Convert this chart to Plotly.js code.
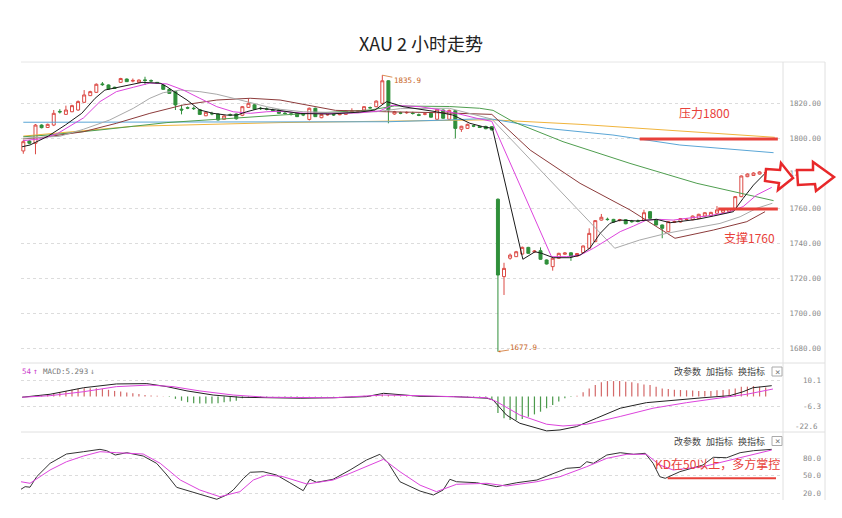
<!DOCTYPE html>
<html><head><meta charset="utf-8">
<script src="https://cdn.plot.ly/plotly-3.0.1.min.js"></script>
<style>html,body{margin:0;padding:0;background:#fff;}#chart{width:842px;height:518px;}</style>
</head><body><div id="chart"></div>
<script>
// ---------- DATA ----------
const opens = [1792.6,1798.3,1797,1807.4,1806,1807.4,1815.2,1813.5,1815,1816,1820.4,1824.2,1826.1,1830.9,1830.3,1829,1831.8,1833.7,1832.5,1831.8,1833.2,1832.8,1831.8,1830.3,1827.8,1826.5,1816.5,1817.3,1817,1816.2,1812.7,1814,1813.7,1810.7,1813.3,1813.7,1813,1817.5,1819,1817,1816.6,1815.9,1816,1814.2,1813.8,1814.1,1813.4,1810.6,1817,1811.6,1813.2,1813.4,1813.3,1813.5,1815,1815.3,1816,1817.4,1817.9,1819.8,1832.7,1813.7,1814.4,1814.4,1814.2,1813.3,1813.6,1814.1,1810.7,1816,1810.7,1815.6,1805,1805.5,1807,1806.6,1806.6,1806.5,1765,1720.8,1731.3,1732.2,1733.7,1737.5,1734.8,1735.6,1730.3,1726.5,1731.3,1733.6,1734.4,1732.5,1734.5,1737,1740.8,1753.1,1753.6,1753.5,1752.8,1753.3,1752.4,1752.6,1753.1,1757.9,1753.5,1750.3,1746.5,1751.8,1752,1753.4,1753.3,1754,1755.4,1755.6,1757,1757.5,1757.9,1759.8,1766.5,1777.9,1778.6,1779.4,1780];
const highs = [1799,1798.8,1808,1807.8,1808.2,1816,1816.5,1818.5,1819,1821.5,1827.4,1827,1831.2,1832,1830.6,1829.3,1834.4,1834,1834,1833.5,1835,1833.5,1832,1830.8,1828,1826.8,1819,1818,1818,1816.6,1815,1815,1814,1813,1814,1814,1818.3,1822.5,1819.4,1817.8,1817.5,1816.8,1816.4,1815,1814.6,1814.4,1814,1817.4,1817.3,1813.8,1813.8,1813.8,1814.2,1815.8,1817,1816,1818.2,1818,1821.5,1835.9,1833,1815.5,1815,1815.2,1815,1814,1814.4,1814.4,1816.8,1816.3,1816.2,1816,1807,1808.2,1807.6,1807,1807,1806.8,1765.5,1728.7,1734,1735.5,1738,1737.8,1736,1737.5,1730.6,1731.6,1734.4,1734.8,1734.7,1734.3,1738.6,1748.4,1753.1,1756.6,1754.5,1753.8,1753.8,1753.6,1753.2,1753.4,1759,1758.2,1753.8,1750.6,1752.5,1752.8,1754.3,1754.2,1755.7,1756.7,1757.6,1757.8,1761.1,1759.3,1760,1766.8,1778.6,1779.8,1780.4,1781,1780.8];
const lows = [1791,1796.5,1790.7,1805.5,1805.7,1806.8,1814,1813.2,1814.8,1815.5,1820,1824,1825.8,1829.8,1827.8,1828,1831.5,1832,1831.8,1831.5,1830.3,1832,1831,1827.5,1825.2,1816,1813.5,1816.5,1816,1813.2,1812.5,1813,1810,1810.4,1812.5,1810.5,1812.5,1817.2,1816.2,1816,1815.8,1815,1813.8,1813.4,1812.8,1812,1812.5,1810,1812,1811.3,1812.8,1812.6,1813,1813.2,1814.2,1815,1815.8,1816.8,1817.6,1819.5,1808.4,1813.3,1813.6,1813.8,1813.4,1812.5,1813,1811.6,1810.4,1811,1810.4,1799.8,1803.5,1805.2,1806.2,1805.7,1805,1804.3,1677.9,1710.3,1730.5,1732,1733.4,1733.8,1734.5,1730.4,1727.7,1724.2,1731,1733.3,1729.8,1732.2,1734.2,1736.7,1740.5,1752.8,1752.8,1751.7,1752.4,1750.7,1751.6,1751.8,1752.8,1753.8,1750,1742.7,1746.2,1751.4,1751.7,1752.9,1753,1753.7,1755.1,1755.3,1756.7,1757.2,1757.6,1759.5,1766.2,1777.6,1778.3,1779.1,1779.6];
const closes = [1797.9,1797,1807.4,1805.9,1807.8,1814.1,1814.9,1816,1818.5,1820.8,1824.6,1826.5,1830.7,1830.5,1828,1828.3,1834,1832.2,1832.9,1833.1,1832.9,1832.6,1831.4,1827.8,1825.5,1818.9,1816,1817.1,1816.8,1813.5,1814.7,1813.8,1810.3,1812.6,1813.1,1811,1817.9,1819.8,1816.5,1816.8,1816.4,1815.6,1814.1,1814,1813.5,1812.2,1813.2,1817,1812.2,1813.5,1813.4,1813.2,1813.7,1815.4,1815.3,1815.5,1817.9,1817.2,1821.1,1832.7,1816,1815,1814.2,1814.6,1814,1813,1813.8,1811.9,1816.4,1811.3,1815.8,1805.5,1806.7,1807.8,1806.8,1806,1805.3,1804.6,1721.7,1725.5,1733.1,1735,1737.5,1734.1,1735.4,1730.7,1728,1731.3,1734.1,1734.3,1732,1734,1738.3,1745.5,1752.8,1754.7,1753.4,1752,1753.3,1751,1752.2,1752.4,1757.3,1754.1,1750.3,1748.4,1752.2,1752.2,1754,1753.6,1755.4,1756.4,1757.3,1757.5,1758.9,1759,1759.6,1766.5,1778.3,1779.4,1780,1780.6,1780.2];

// moving averages (bar index, price)
const ma5X = [-0.2,1.1,4.1,6.9,9.6,11.8,13.4,15.1,17.2,19.5,22.5,23.6,25.2,26.9,29.0,31.2,33.4,35.1,36.7,38.9,41.6,45.5,50.4,55.3,57.8,59.7,62.4,65.2,67.9,70.6,73.4,75.5,77.1,82.1,84.1,85.2,87.1,89.8,91.5,93.1,94.8,96.4,98.1,100.8,102.4,104.1,106.3,107.9,110.7,113.4,116.7,118.3,120.0,121.9];
const ma5Y = [1795,1796,1801.1,1807.4,1814.1,1822.7,1827.4,1828.7,1830.3,1831.8,1831.3,1829.3,1825.5,1821.7,1816,1814.1,1813.1,1813.1,1815,1817,1816,1814,1813.7,1814.8,1816,1820.8,1817.9,1816.4,1815,1813.1,1808.4,1806.5,1805.5,1730.7,1735,1734.1,1731.6,1731.6,1733.1,1737,1745.5,1751.2,1753.1,1752.6,1753.1,1753.5,1751.6,1752.2,1753.5,1755.4,1757.9,1765.5,1773.1,1779.8];
const ma10X = [0,3,5.6,7.1,9.9,12.6,15.3,18.1,20.8,23.6,26.3,29.0,31.8,34.5,37.3,40.0,42.2,46,50,55,58.6,60.6,65.2,67.9,71.2,74.5,77.0,86.8,89.3,91.5,93.7,95.9,98.1,100.3,102.4,104.6,106.8,109.0,112.3,115.6,118.3,120.5,123.0];
const ma10Y = [1798.5,1799.6,1802.5,1805.5,1811.5,1820.8,1826.5,1829,1831.4,1830.9,1827.4,1822.7,1817.9,1815,1814.1,1815,1815.3,1814.2,1814,1814.3,1815.5,1818.7,1817.9,1816.4,1814.1,1811.3,1809.5,1732.2,1732.2,1733.1,1737,1741.7,1746.5,1749.7,1753.1,1753.5,1753.1,1754.1,1755.4,1757.3,1760.8,1767.4,1771.8];
const ma20X = [0,6,9.9,14.2,18.1,20.8,23.0,25.8,29.0,31.8,34.5,37.8,40.0,42.2,46,52,58,62,70,77,97.2,101.3,105.7,110.1,114.5,117.8,120.5,123.1];
const ma20Y = [1799.8,1801,1805,1810.3,1817,1822.7,1825.9,1827.4,1826.5,1825,1822.7,1819.8,1817.9,1816.4,1815,1814.5,1815,1816.8,1817,1810.8,1737,1741.7,1745.5,1748.4,1751.2,1755,1759.8,1762.7];
const ma30X = [0,3.3,9.9,15.3,20.8,26.3,31.8,37.3,42.2,51.3,59.7,67.9,77.0,83.3,91.5,99.7,107.1,113.4,118.9,121.9];
const ma30Y = [1799.5,1800.4,1803.6,1808.4,1814.1,1818.9,1821.7,1822.7,1821.7,1815.8,1815,1814.5,1813.5,1793.1,1774.1,1758.9,1742.7,1747.4,1752.2,1757.9];
const ma60X = [0,4.1,12.6,23.6,34.5,42.2,57,61,70,75,77.2,80.5,88.7,99.7,110.7,118.9,123.3];
const ma60Y = [1800.7,1801.7,1804.6,1808.8,1811.3,1813.1,1816,1818.3,1818,1817,1815.8,1809.3,1797.9,1785.5,1774.1,1767.4,1764.2];
const ma120X = [0,40,60,70,75,77.2,86,96.9,101.3,107.9,123.3];
const ma120Y = [1809,1809,1809.3,1810.3,1811,1810.7,1805.5,1801.7,1799.5,1796,1791.6];
const ma250X = [0,10,18.1,42.2,60,77,91.5,107.9,123.5];
const ma250Y = [1801.1,1804,1806.7,1808.8,1809.6,1810.4,1807.8,1804.2,1800.4];

// MACD panel
const macdHist = [0.1,0.2,0.4,0.6,1.5,2.1,2.7,3.5,4.2,4.8,
5.2,5.2,5.2,4.8,4.2,3.5,3.2,2.5,2.1,1.5,
1.0,0.6,0.4,0.2,-0.4,-1.5,-2.7,-3.6,-4.2,-4.4,
-4.4,-4.4,-4.2,-3.6,-3.2,-2.7,-1.1,-0.6,-0.4,-0.3,
-0.3,-0.2,-0.2,-0.3,-0.3,-0.3,-0.2,-0.1,-0.2,-0.2,
-0.1,-0.1,0.1,0.2,0.3,0.3,0.4,0.5,0.6,1.2,
0.9,0.6,0.4,0.3,0.2,0.1,0.1,-0.1,0.1,-0.1,
0.1,-0.3,-0.3,-0.3,-0.3,-0.3,-0.4,-1.8,-10.5,-13.7,
-14.8,-14.8,-14.2,-12.8,-11.3,-9.6,-7.5,-5.4,-3.2,-1.1,
-0.4,0.5,2.6,5.1,7.2,8.9,9.7,9.7,9.7,9.3,
8.9,8.3,7.6,7.2,6.2,5.1,4.7,4.3,4.1,3.9,
3.7,3.5,3.5,3.5,3.9,4.1,4.5,5.1,6.2,6.2,
6.6,6.2,5.6];
const difX = [-0.2,4.4,9.9,15.3,20.3,23.6,26.9,31.2,35.6,40.0,45.5,51.0,56.4,59.2,61.9,65.2,70.7,76.2,77.2,79.4,81.6,86.0,88.2,90.9,94.2,98.1,102.4,106.3,111.7,116.1,118.3,119.9,123.0];
const difY = [-0.5,1.4,5.5,7.9,8.1,6.2,3.5,0.9,-0.5,-0.8,-1.1,-0.8,-0.1,2.0,1.0,0.1,-0.1,-1.1,-2.2,-11.7,-16.9,-21.7,-21.1,-19.0,-13.7,-7.4,-3.9,-2.8,-0.8,0.5,3.0,5.5,6.8];
const deaX = [-0.2,4.4,9.9,15.3,20.8,24.6,29.0,34.5,40.0,51.0,59.2,65.2,76.2,77.8,81.6,86.0,88.7,92.6,98.1,103.5,109.0,114.5,118.9,123.2];
const deaY = [-0.5,0.5,3.0,6.2,7.2,6.2,3.5,0.9,-0.5,-0.8,0.9,0.5,-0.8,-3.3,-11.7,-17.5,-18.6,-17.5,-12.6,-7.4,-3.9,-1.1,1.4,4.7];

// KD panel
const kX = [-0.4,0.3,1.1,2.2,4.4,7.1,9.9,12.6,13.7,15.1,17.0,19.7,21.9,23.6,25.2,29.0,31.8,33.4,34.5,36.2,37.3,39.4,41.6,43.8,46.0,47.1,48.2,50.9,53.7,56.4,58.6,60.0,61.9,65.2,67.4,69.0,70.1,71.2,74.5,77.8,81.1,84.4,87.7,89.3,91.5,92.6,93.7,95.9,98.1,100.3,102.2,103.5,104.6,105.5,107.9,111.7,113.4,115.6,117.8,120.0,123.0];
const kY = [26.9,31.4,30.5,48.3,71,86.8,90.7,94.7,92.4,85.1,89,83.4,71,51.2,30.3,19,10,17.3,25.8,45.6,55.8,56.8,51.2,38.1,24.6,43.9,38.8,43.9,59.7,76.6,86.3,71,39.8,24,17.3,25.8,43.9,39.8,38.1,31.4,38.1,42.7,56.8,62.5,64.2,73.7,71,85.1,89,86.3,88,71,48.3,45.6,56.8,68.1,81.2,80.5,89,92.4,94.7];
const dX = [-0.4,1.1,4.4,7.1,9.9,12.6,15.3,19.7,22.5,25.8,29.0,32.3,35.6,37.8,40.0,42.7,46.6,50.9,53.7,56.4,59.2,61.9,65.2,67.9,71.2,76.2,79.4,84.4,88.2,92.6,95.9,99.2,102.4,104.6,106.8,111.7,117.2,123.0];
const dY = [39.8,37.1,59.7,73.7,83.4,90.7,89,86.8,71,42.7,25.8,14.4,22.9,42.7,51.2,48.3,35.9,42.7,54,65.3,77.8,56.8,34,22.9,35.4,37.1,32.5,39.8,48.3,65.3,79.5,86.3,86.3,68.1,59.7,65.3,79.5,93.6];

// axis ticks and labels
const priceTicks = [1680,1700,1720,1740,1760,1780,1800,1820];
const macdTicks = [10.1,-6.3];
const macdLow = -22.6;
const kdTicks = [80,50,20];
const resistLevel = 1799.5, supportLevel = 1759.5, kdLine = 45.6;
const highLabel = '1835.9', lowLabel = '1677.9';
const macdValue = 'MACD:5.293';

// ---------- CHART ----------
const W = 842, H = 518;
const PX = x => x / W, PY = y => 1 - y / H;
const idx = opens.map((_, i) => i);
const mono = 'DejaVu Sans Mono';
const cjk = 'Noto Sans CJK SC';
const traces = [];

traces.push({type:'candlestick', x:idx, open:opens, high:highs, low:lows, close:closes,
  xaxis:'x', yaxis:'y', whiskerwidth:0, hoverinfo:'skip',
  increasing:{line:{color:'#dc4a45', width:1}, fillcolor:'#ffffff'},
  decreasing:{line:{color:'#2f8f3a', width:1}, fillcolor:'#2f8f3a'}});

const maDefs = [[ma250X,ma250Y,'#f0b43c'],[ma120X,ma120Y,'#5aa6d6'],[ma60X,ma60Y,'#4f9e4f'],
  [ma30X,ma30Y,'#8c3b3b'],[ma20X,ma20Y,'#a9a9a9'],[ma10X,ma10Y,'#dd44dd'],[ma5X,ma5Y,'#1a1a1a']];
maDefs.forEach(([xs, ys, c]) => traces.push({type:'scatter', mode:'lines', x:xs, y:ys,
  xaxis:'x', yaxis:'y', line:{color:c, width:1}, hoverinfo:'skip'}));

traces.push({type:'bar', x:idx, y:macdHist, xaxis:'x', yaxis:'y2', width:0.2,
  marker:{color:macdHist.map(v => v >= 0 ? '#d46a6a' : '#4c9a4c'), line:{width:0}}, hoverinfo:'skip'});
traces.push({type:'scatter', mode:'lines', x:difX, y:difY, xaxis:'x', yaxis:'y2', line:{color:'#222', width:1}, hoverinfo:'skip'});
traces.push({type:'scatter', mode:'lines', x:deaX, y:deaY, xaxis:'x', yaxis:'y2', line:{color:'#dd44dd', width:1}, hoverinfo:'skip'});
traces.push({type:'scatter', mode:'lines', x:kX, y:kY, xaxis:'x', yaxis:'y3', line:{color:'#333', width:1}, hoverinfo:'skip'});
traces.push({type:'scatter', mode:'lines', x:dX, y:dY, xaxis:'x', yaxis:'y3', line:{color:'#dd44dd', width:1}, hoverinfo:'skip'});

const yCommon = {anchor:'free', position:PX(821), side:'left', zeroline:false, showline:false, ticks:'',
  showgrid:true, gridcolor:'#dcdcdc', griddash:'dot', gridwidth:1, fixedrange:true,
  tickfont:{family:mono, size:7.5, color:'#8a8a8a'}};

const annotations = [];
function ann(text, x, y, font, extra) {
  annotations.push(Object.assign({text:text, x:PX(x), y:PY(y), xref:'paper', yref:'paper',
    showarrow:false, xanchor:'center', yanchor:'middle', font:font}, extra || {}));
}
const red = '#e8413a';
ann('压力1800', 704, 112, {family:cjk, size:12, color:red});
ann('支撑1760', 749, 237, {family:cjk, size:12, color:red});
ann('KD在50以上，多方掌控', 717, 463, {family:cjk, size:12, color:red});
ann(String(macdLow.toFixed(1)), 820, 426, {family:mono, size:7.5, color:'#8a8a8a'}, {xanchor:'right'});
['改参数','加指标','换指标'].forEach((t, k) => {
  const cx = [687, 719, 751][k];
  ann(t, cx, 371.5, {family:cjk, size:9, color:'#444'});
  ann(t, cx, 441, {family:cjk, size:9, color:'#444'});
});
ann('×', 777, 371.5, {family:mono, size:9, color:'#777'});
ann('×', 777, 441, {family:mono, size:9, color:'#777'});
ann('54', 20, 371.5, {family:mono, size:7.5, color:'#cc44cc'}, {xanchor:'left'});
ann('↑', 35, 371.5, {family:mono, size:8, color:'#cc44cc'});
ann(macdValue, 41, 371.5, {family:mono, size:7.5, color:'#777'}, {xanchor:'left'});
ann('↓', 92, 371.5, {family:mono, size:8, color:'#888'});

annotations.push({text:highLabel, x:59, y:highs[59], xref:'x', yref:'y', ax:25, ay:5,
  showarrow:true, arrowhead:0, arrowwidth:0.8, arrowcolor:'#d0702a', standoff:0,
  font:{family:mono, size:7.5, color:'#c8641e'}});
annotations.push({text:lowLabel, x:78, y:lows[78], xref:'x', yref:'y', ax:26, ay:-4,
  showarrow:true, arrowhead:2, arrowsize:0.6, arrowwidth:0.8, arrowcolor:'#d0702a', standoff:0,
  font:{family:mono, size:7.5, color:'#c8641e'}});

const shapes = [];
function pline(x0, y0, x1, y1, color, w) {
  shapes.push({type:'line', xref:'paper', yref:'paper', x0:PX(x0), y0:PY(y0), x1:PX(x1), y1:PY(y1),
    line:{color:color, width:w || 1}, layer:'below'});
}
pline(21, 62, 825, 62, '#e6e6e6');
pline(21, 363, 825, 363, '#e0e0e0');
pline(21, 432, 825, 432, '#e0e0e0');
pline(783, 62, 783, 500, '#e0e0e0');
pline(825, 62, 825, 500, '#e0e0e0');
shapes.push({type:'rect', xref:'paper', yref:'paper', x0:PX(772), x1:PX(782), y0:PY(376), y1:PY(367), line:{color:'#aaa', width:1}});
shapes.push({type:'rect', xref:'paper', yref:'paper', x0:PX(772), x1:PX(782), y0:PY(445.5), y1:PY(436.5), line:{color:'#aaa', width:1}});
// support / resistance and KD marker lines
shapes.push({type:'line', xref:'x', yref:'y', x0:101.3, x1:124.0, y0:resistLevel, y1:resistLevel, line:{color:red, width:3}});
shapes.push({type:'line', xref:'x', yref:'y', x0:114.2, x1:124.0, y0:supportLevel, y1:supportLevel, line:{color:red, width:3}});
shapes.push({type:'line', xref:'x', yref:'y3', x0:105.9, x1:123.7, y0:kdLine, y1:kdLine, line:{color:red, width:2}});
// hollow block arrows
function arrowPath(pts) {
  return 'M ' + pts.map(p => PX(p[0]).toFixed(5) + ',' + PY(p[1]).toFixed(5)).join(' L ') + ' Z';
}
shapes.push({type:'path', xref:'paper', yref:'paper', fillcolor:'#ffffff', line:{color:'#e8282a', width:2.5},
  path:arrowPath([[766,169],[780,170],[781,163],[793,178],[778,190],[779,183],[765,181]])});
shapes.push({type:'path', xref:'paper', yref:'paper', fillcolor:'#ffffff', line:{color:'#e8282a', width:2.5},
  path:arrowPath([[797,170],[813,170],[813,162],[834,177],[816,191],[815,184],[798,185]])});

const layout = {
  width:W, height:H, margin:{l:0, r:0, t:0, b:0}, paper_bgcolor:'#fff', plot_bgcolor:'#fff',
  showlegend:false, dragmode:false, boxgap:0.3,
  title:{text:'XAU 2 小时走势', x:0.5, xanchor:'center', y:PY(45), yanchor:'middle',
    font:{family:cjk, size:18, color:'#222'}},
  xaxis:{domain:[PX(21), PX(783)], range:[-0.38, 124.85], visible:false, showgrid:false,
    rangeslider:{visible:false}, fixedrange:true},
  yaxis:Object.assign({}, yCommon, {domain:[PY(358), PY(62)], range:[1674.29, 1843.43],
    tickvals:priceTicks, ticktext:priceTicks.map(v => v.toFixed(2))}),
  yaxis2:Object.assign({}, yCommon, {domain:[PY(432), PY(363)], range:[-22.4, 21.1],
    tickvals:macdTicks, ticktext:macdTicks.map(v => v.toFixed(1))}),
  yaxis3:Object.assign({}, yCommon, {domain:[PY(500), PY(432)], range:[8.8, 124.1],
    tickvals:kdTicks, ticktext:kdTicks.map(v => v.toFixed(1))}),
  annotations:annotations, shapes:shapes
};
Plotly.newPlot('chart', traces, layout, {displayModeBar:false, staticPlot:true});
</script></body></html>
